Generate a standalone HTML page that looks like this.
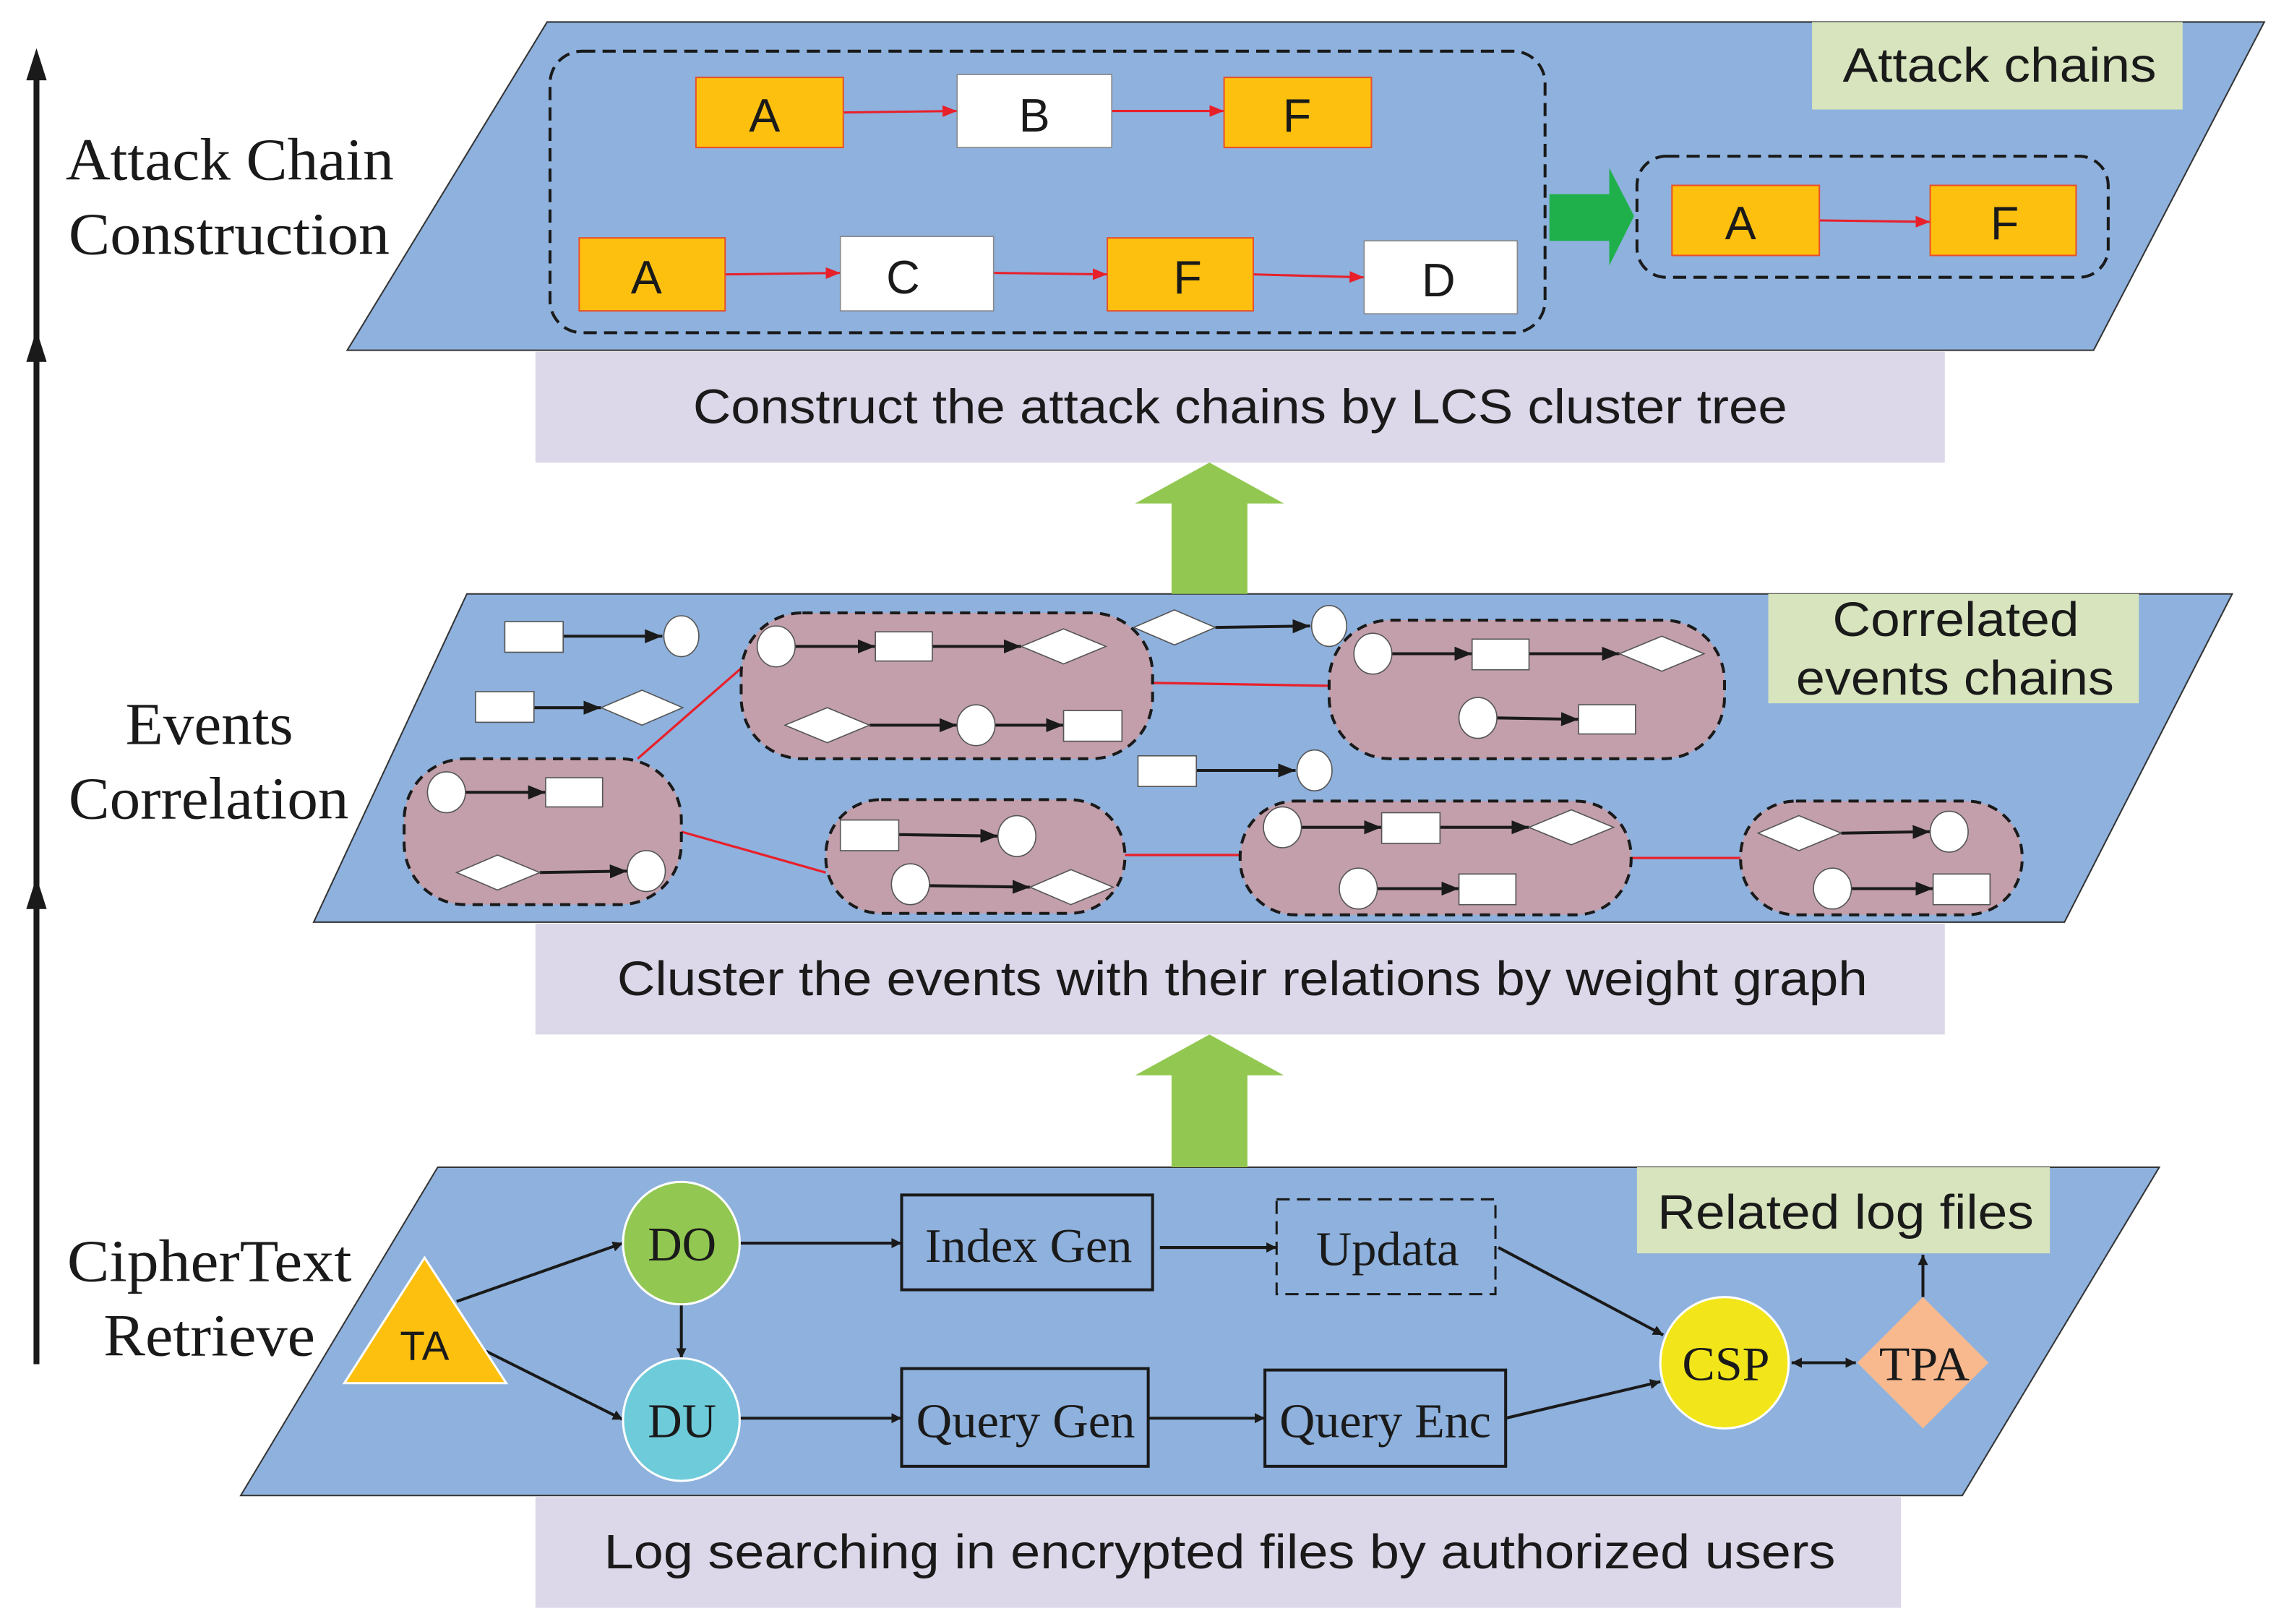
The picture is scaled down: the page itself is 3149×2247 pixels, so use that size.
<!DOCTYPE html>
<html><head><meta charset="utf-8"><style>html,body{margin:0;padding:0;background:#fff}svg{display:block}</style></head><body>
<svg width="3149" height="2247" viewBox="0 0 1560 1113" xmlns="http://www.w3.org/2000/svg">
<defs>
<marker id="k" viewBox="0 0 10 10" refX="10" refY="5" markerWidth="7" markerHeight="7" orient="auto-start-reverse" markerUnits="userSpaceOnUse"><path d="M0,0L10,5L0,10z" fill="#1a1a1a"/></marker>
<marker id="kb" viewBox="0 0 10 10" refX="10" refY="5" markerWidth="12" markerHeight="12" orient="auto-start-reverse" markerUnits="userSpaceOnUse"><path d="M0,1L10,5L0,9z" fill="#1a1a1a"/></marker>
<marker id="r" viewBox="0 0 10 10" refX="10" refY="5" markerWidth="10" markerHeight="10" orient="auto" markerUnits="userSpaceOnUse"><path d="M0,1L10,5L0,9z" fill="#e8202a"/></marker>
</defs>
<g font-family="Liberation Serif, serif" fill="#1a1a1a">
<line x1="25" y1="935" x2="25" y2="40" stroke="#1a1a1a" stroke-width="4"/>
<path d="M25,33L18,55L32,55z M25,226L18,248L32,248z M25,601L18,623L32,623z" fill="#1a1a1a"/>
<text x="45" y="123" font-size="41" textLength="225" lengthAdjust="spacingAndGlyphs">Attack Chain</text>
<text x="47" y="174" font-size="41" textLength="220" lengthAdjust="spacingAndGlyphs">Construction</text>
<text x="86" y="510" font-size="41" textLength="115" lengthAdjust="spacingAndGlyphs">Events</text>
<text x="47" y="561" font-size="41" textLength="192" lengthAdjust="spacingAndGlyphs">Correlation</text>
<text x="46" y="878" font-size="41" textLength="195" lengthAdjust="spacingAndGlyphs">CipherText</text>
<text x="71" y="929" font-size="41" textLength="145" lengthAdjust="spacingAndGlyphs">Retrieve</text>
</g>
<polygon points="375,15 1552,15 1435,240 238,240" fill="#8eb1dd" stroke="#333" stroke-width="1"/>
<polygon points="320,407 1530,407 1415,632 215,632" fill="#8eb1dd" stroke="#333" stroke-width="1"/>
<polygon points="300,800 1480,800 1345,1025 165,1025" fill="#8eb1dd" stroke="#333" stroke-width="1"/>
<rect x="367" y="241" width="966" height="76" fill="#dcd7e9"/>
<rect x="367" y="633" width="966" height="76" fill="#dcd7e9"/>
<rect x="367" y="1026" width="936" height="76" fill="#dcd7e9"/>
<g font-family="Liberation Sans, sans-serif" font-size="33" fill="#1a1a1a">
<text x="475" y="290" textLength="750" lengthAdjust="spacingAndGlyphs">Construct the attack chains by LCS cluster tree</text>
<text x="423" y="682" textLength="857" lengthAdjust="spacingAndGlyphs">Cluster the events with their relations by weight graph</text>
<text x="414" y="1075" textLength="844" lengthAdjust="spacingAndGlyphs">Log searching in encrypted files by authorized users</text>
</g>
<path d="M829,317L880,345L855,345L855,407L803,407L803,345L778,345z" fill="#92c851"/>
<path d="M829,709L880,737L855,737L855,800L803,800L803,737L778,737z" fill="#92c851"/>
<rect x="377" y="35" width="682" height="193" rx="22" fill="none" stroke="#1a1a1a" stroke-width="2" stroke-dasharray="9,5"/>
<rect x="1122" y="107" width="323" height="83" rx="20" fill="none" stroke="#1a1a1a" stroke-width="2" stroke-dasharray="9,5"/>
<rect x="1242" y="15" width="254" height="60" fill="#d7e4bd"/>
<text x="1263" y="56" font-family="Liberation Sans, sans-serif" font-size="33" fill="#1a1a1a" textLength="215" lengthAdjust="spacingAndGlyphs">Attack chains</text>
<g stroke="#e8202a" stroke-width="1.5" fill="none">
<line x1="578" y1="77" x2="656" y2="76" marker-end="url(#r)"/>
<line x1="762" y1="76" x2="839" y2="76" marker-end="url(#r)"/>
<line x1="497" y1="188" x2="576" y2="187" marker-end="url(#r)"/>
<line x1="681" y1="187" x2="759" y2="188" marker-end="url(#r)"/>
<line x1="859" y1="188" x2="935" y2="190" marker-end="url(#r)"/>
<line x1="1247" y1="151" x2="1323" y2="152" marker-end="url(#r)"/>
</g>
<g stroke="#e8502a" stroke-width="1">
<rect x="477" y="53" width="101" height="48" fill="#fec00f"/>
<rect x="839" y="53" width="101" height="48" fill="#fec00f"/>
<rect x="397" y="163" width="100" height="50" fill="#fec00f"/>
<rect x="759" y="163" width="100" height="50" fill="#fec00f"/>
<rect x="1146" y="127" width="101" height="48" fill="#fec00f"/>
<rect x="1323" y="127" width="100" height="48" fill="#fec00f"/>
</g>
<g fill="#fff" stroke="#888" stroke-width="0.8">
<rect x="656" y="51" width="106" height="50"/>
<rect x="576" y="162" width="105" height="51"/>
<rect x="935" y="165" width="105" height="50"/>
</g>
<g font-family="Liberation Sans, sans-serif" font-size="32" text-anchor="middle" fill="#1a1a1a">
<text x="524" y="90">A</text><text x="709" y="90">B</text><text x="889" y="90">F</text>
<text x="443" y="201">A</text><text x="619" y="201">C</text><text x="814" y="201">F</text><text x="986" y="203">D</text>
<text x="1193" y="164">A</text><text x="1374" y="164">F</text>
</g>
<path d="M1062,133L1103,133L1103,115L1120,148L1103,182L1103,165L1062,165z" fill="#1fb04b"/>
<rect x="1212" y="407" width="254" height="75" fill="#d7e4bd"/>
<g font-family="Liberation Sans, sans-serif" font-size="33" fill="#1a1a1a">
<text x="1256" y="436" textLength="169" lengthAdjust="spacingAndGlyphs">Correlated</text>
<text x="1231" y="476" textLength="218" lengthAdjust="spacingAndGlyphs">events chains</text>
</g>
<g stroke="#e8202a" stroke-width="1.6">
<line x1="437" y1="520" x2="508" y2="458"/>
<line x1="467" y1="570" x2="566" y2="598"/>
<line x1="790" y1="468" x2="911" y2="470"/>
<line x1="771" y1="586" x2="850" y2="586"/>
<line x1="1118" y1="588" x2="1193" y2="588"/>
</g>
<g fill="#c29fab" stroke="#1a1a1a" stroke-width="2" stroke-dasharray="7,5">
<rect x="277" y="520" width="190" height="100" rx="42"/>
<rect x="508" y="420" width="282" height="100" rx="42"/>
<rect x="911" y="425" width="271" height="95" rx="42"/>
<rect x="566" y="548" width="205" height="78" rx="38"/>
<rect x="850" y="549" width="268" height="78" rx="38"/>
<rect x="1193" y="549" width="193" height="78" rx="38"/>
</g>
<g stroke="#1a1a1a" stroke-width="2" fill="none" marker-end="url(#kb)">
<line x1="386" y1="436" x2="454" y2="436"/>
<line x1="366" y1="485" x2="412" y2="485"/>
<line x1="833" y1="430" x2="898" y2="429"/>
<line x1="820" y1="528" x2="888" y2="528"/>
<line x1="319" y1="543" x2="374" y2="543"/>
<line x1="370" y1="598" x2="430" y2="597"/>
<line x1="545" y1="443" x2="600" y2="443"/>
<line x1="639" y1="443" x2="700" y2="443"/>
<line x1="596" y1="497" x2="656" y2="497"/>
<line x1="682" y1="497" x2="729" y2="497"/>
<line x1="954" y1="448" x2="1009" y2="448"/>
<line x1="1048" y1="448" x2="1110" y2="448"/>
<line x1="1026" y1="492" x2="1082" y2="493"/>
<line x1="616" y1="572" x2="684" y2="573"/>
<line x1="637" y1="607" x2="706" y2="608"/>
<line x1="892" y1="567" x2="947" y2="567"/>
<line x1="987" y1="567" x2="1048" y2="567"/>
<line x1="944" y1="609" x2="1000" y2="609"/>
<line x1="1262" y1="571" x2="1323" y2="570"/>
<line x1="1269" y1="609" x2="1325" y2="609"/>
</g>
<g fill="#fff" stroke="#555" stroke-width="0.8">
<rect x="346" y="426" width="40" height="21"/><ellipse cx="467" cy="436" rx="12" ry="14"/>
<rect x="326" y="474" width="40" height="21"/><polygon points="412,485 440,473 468,485 440,497"/>
<polygon points="777,430 805,418 833,430 805,442"/><ellipse cx="911" cy="429" rx="12" ry="14"/>
<rect x="780" y="518" width="40" height="21"/><ellipse cx="901" cy="528" rx="12" ry="14"/>
<ellipse cx="306" cy="543" rx="13" ry="14"/><rect x="374" y="533" width="39" height="20"/>
<polygon points="313,598 341,586 370,598 341,610"/><ellipse cx="443" cy="597" rx="13" ry="14"/>
<ellipse cx="532" cy="443" rx="13" ry="14"/><rect x="600" y="433" width="39" height="20"/><polygon points="700,443 729,431 758,443 729,455"/>
<polygon points="538,497 567,485 596,497 567,509"/><ellipse cx="669" cy="497" rx="13" ry="14"/><rect x="729" y="487" width="40" height="21"/>
<ellipse cx="941" cy="448" rx="13" ry="14"/><rect x="1009" y="438" width="39" height="21"/><polygon points="1110,448 1139,436 1168,448 1139,460"/>
<ellipse cx="1013" cy="492" rx="13" ry="14"/><rect x="1082" y="483" width="39" height="20"/>
<rect x="576" y="562" width="40" height="21"/><ellipse cx="697" cy="573" rx="13" ry="14"/>
<ellipse cx="624" cy="606" rx="13" ry="14"/><polygon points="706,608 734,596 763,608 734,620"/>
<ellipse cx="879" cy="567" rx="13" ry="14"/><rect x="947" y="557" width="40" height="21"/><polygon points="1048,567 1077,555 1106,567 1077,579"/>
<ellipse cx="931" cy="609" rx="13" ry="14"/><rect x="1000" y="599" width="39" height="21"/>
<polygon points="1205,571 1233,559 1262,571 1233,583"/><ellipse cx="1336" cy="570" rx="13" ry="14"/>
<ellipse cx="1256" cy="609" rx="13" ry="14"/><rect x="1325" y="599" width="39" height="21"/>
</g>
<rect x="1122" y="800" width="283" height="59" fill="#d7e4bd"/>
<text x="1136" y="842" font-family="Liberation Sans, sans-serif" font-size="33" fill="#1a1a1a" textLength="258" lengthAdjust="spacingAndGlyphs">Related log files</text>
<g stroke="#1a1a1a" stroke-width="2" fill="none" marker-end="url(#k)">
<line x1="313" y1="892" x2="427" y2="852"/>
<line x1="333" y1="926" x2="427" y2="973"/>
<line x1="467" y1="894" x2="467" y2="931"/>
<line x1="507" y1="852" x2="618" y2="852"/>
<line x1="795" y1="855" x2="875" y2="855"/>
<line x1="1027" y1="855" x2="1140" y2="915"/>
<line x1="507" y1="972" x2="618" y2="972"/>
<line x1="787" y1="972" x2="867" y2="972"/>
<line x1="1032" y1="972" x2="1138" y2="947"/>
<line x1="1318" y1="889" x2="1318" y2="860"/>
<line x1="1228" y1="934" x2="1272" y2="934" marker-start="url(#k)"/>
</g>
<polygon points="291,862 347,948 236,948" fill="#fec00f" stroke="#fff" stroke-width="1.5"/>
<ellipse cx="467" cy="852" rx="40" ry="42" fill="#92c851" stroke="#fff" stroke-width="1.5"/>
<ellipse cx="467" cy="973" rx="40" ry="42" fill="#6ecbda" stroke="#fff" stroke-width="1.5"/>
<rect x="618" y="819" width="172" height="65" fill="none" stroke="#1a1a1a" stroke-width="2"/>
<rect x="875" y="822" width="150" height="65" fill="none" stroke="#1a1a1a" stroke-width="1.5" stroke-dasharray="9,5"/>
<rect x="618" y="938" width="169" height="67" fill="none" stroke="#1a1a1a" stroke-width="2"/>
<rect x="867" y="939" width="165" height="66" fill="none" stroke="#1a1a1a" stroke-width="2"/>
<ellipse cx="1182" cy="934" rx="44" ry="45" fill="#f2e61a" stroke="#fff" stroke-width="1.5"/>
<polygon points="1318,889 1363,934 1318,979 1273,934" fill="#f8b98f"/>
<g font-family="Liberation Serif, serif" font-size="33" fill="#1a1a1a">
<text x="291" y="932" font-family="Liberation Sans, sans-serif" font-size="28" text-anchor="middle">TA</text>
<text x="444" y="864" textLength="47" lengthAdjust="spacingAndGlyphs">DO</text>
<text x="444" y="985" textLength="47" lengthAdjust="spacingAndGlyphs">DU</text>
<text x="634" y="865" textLength="142" lengthAdjust="spacingAndGlyphs">Index Gen</text>
<text x="902" y="867" textLength="98" lengthAdjust="spacingAndGlyphs">Updata</text>
<text x="628" y="985" textLength="150" lengthAdjust="spacingAndGlyphs">Query Gen</text>
<text x="877" y="985" textLength="145" lengthAdjust="spacingAndGlyphs">Query Enc</text>
<text x="1153" y="946" textLength="60" lengthAdjust="spacingAndGlyphs">CSP</text>
<text x="1288" y="946" textLength="62" lengthAdjust="spacingAndGlyphs">TPA</text>
</g>
</svg>
</body></html>
